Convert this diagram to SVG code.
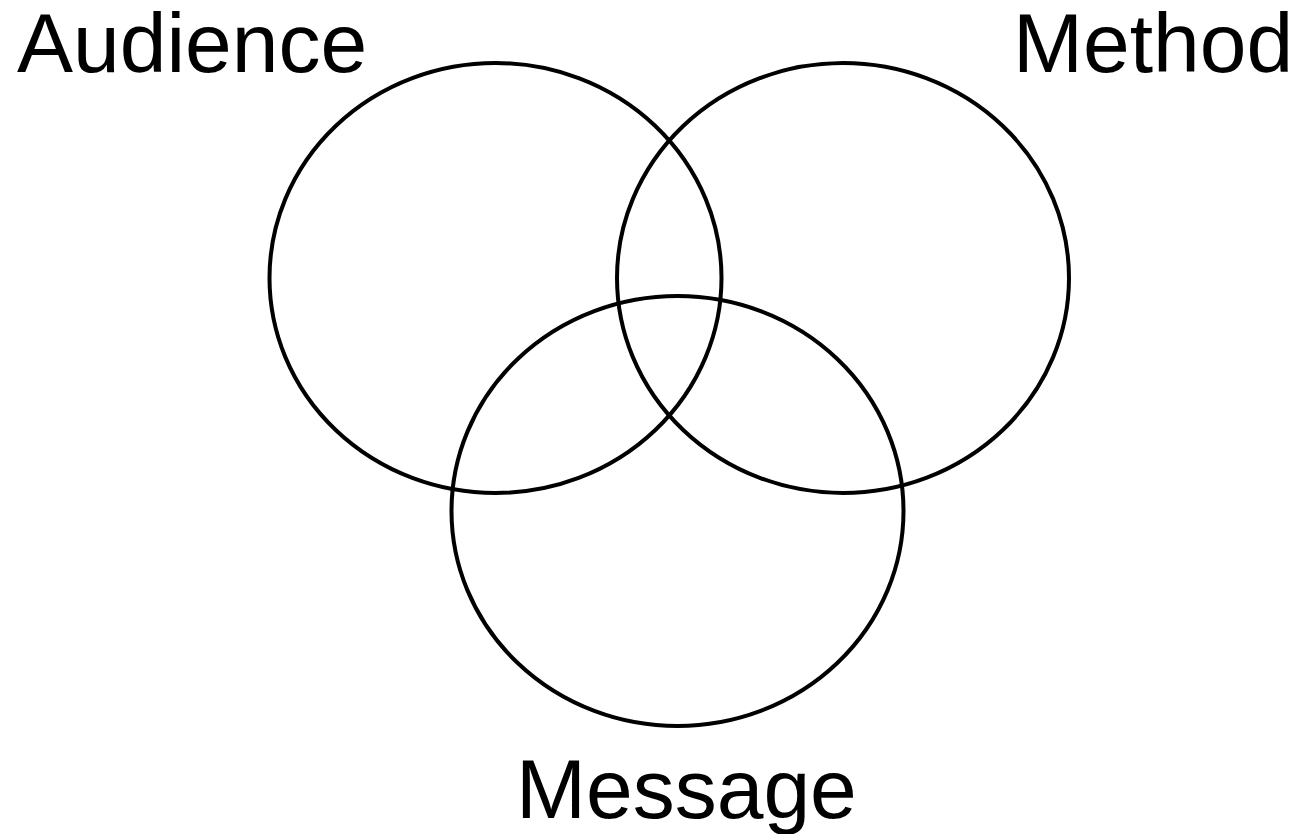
<svg xmlns="http://www.w3.org/2000/svg" width="1301" height="834" viewBox="0 0 1301 834">
<style>
.c{fill:none;stroke:#000;stroke-width:4}
.t{font-family:"Liberation Sans",Arial,sans-serif;font-size:84px;fill:#000}
</style>
<rect width="1301" height="834" fill="#fff"/>
<g id="audience"><ellipse class="c" cx="495.5" cy="278" rx="226" ry="215"/><text class="t" x="17" y="72">Audience</text></g>
<g id="method"><ellipse class="c" cx="843" cy="278" rx="226" ry="215"/><text class="t" x="1013" y="72">Method</text></g>
<g id="message"><ellipse class="c" cx="677.5" cy="511" rx="226" ry="215"/><text class="t" x="516" y="818">Message</text></g>
<g id="connectors"/>
</svg>
